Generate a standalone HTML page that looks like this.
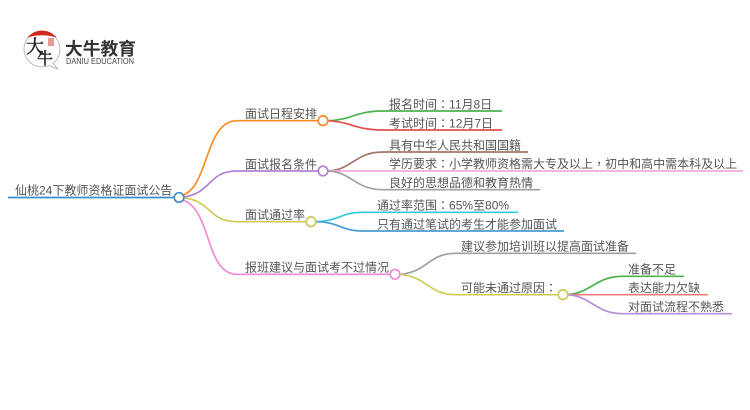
<!DOCTYPE html>
<html><head><meta charset="utf-8"><style>
html,body{margin:0;padding:0;background:#fff;width:750px;height:410px;overflow:hidden}
svg{display:block;filter:blur(0.35px)}
text{font-family:"Liberation Sans","Noto Sans CJK SC",sans-serif;font-size:12px;fill:#555}
.p{font-family:"Noto Sans CJK TC",sans-serif}
.l{fill:none;stroke-width:1.7}
.c{fill:#fff;stroke-width:1.7}
</style></head><body>
<svg width="750" height="410" viewBox="0 0 750 410" xmlns="http://www.w3.org/2000/svg">
<!-- logo -->
<path d="M24 49a18 18 0 1 1 29 14.500l5 5.500-9-3.500A18 18 0 0 1 24 49z" fill="#fff" stroke="#aaa" stroke-width=".8"/>
<path d="M29 36.500A18 18 0 0 1 55 36.500Q42 33 29 36.500z" fill="#cf2a20" stroke="#cf2a20" stroke-width="1"/>
<text x="26" y="53" style="font-size:18px;fill:#222;stroke:#222;stroke-width:.5;font-family:'Noto Serif CJK SC',serif">大</text>
<text x="37" y="64" style="font-size:16px;fill:#222;stroke:#222;stroke-width:.5;font-family:'Noto Serif CJK SC',serif">牛</text>
<rect x="48" y="38" width="6" height="8" fill="#e39a95"/>
<text x="65" y="55" textLength="71" lengthAdjust="spacingAndGlyphs" style="font-size:17.500px;font-weight:700;fill:#333;font-family:'Noto Sans CJK SC',sans-serif">大牛教育</text>
<text x="66" y="64" textLength="68" lengthAdjust="spacingAndGlyphs" style="font-size:8px;fill:#444">DANIU EDUCATION</text>
<!-- connectors -->
<path class="l" d="M8 197.500H174" stroke="#3f8ec9"/>
<path class="l" d="M183 195C209 186 205 120.700 237 120.700H318" stroke="#ff8a27"/>
<path class="l" d="M184 197C212 193 208 171 237 171H318" stroke="#b082d6"/>
<path class="l" d="M184 198C212 201 208 221.700 237 221.700H306" stroke="#cfca55"/>
<path class="l" d="M183 200C212 210 205 274.300 237 274.300H390" stroke="#f08ad8"/>
<path class="l" d="M328 120.700C352 120 355 111 383 111H502" stroke="#4cb34c"/>
<path class="l" d="M328 120.700C352 122 355 130 383 130H502" stroke="#e05050"/>
<path class="l" d="M328 171C352 170 355 152 383 152H528" stroke="#a5766a"/>
<path class="l" d="M328 171H743" stroke="#f2a9e2"/>
<path class="l" d="M328 171C352 172 355 189.700 383 189.700H540" stroke="#a0a0a0"/>
<path class="l" d="M316 221.700C340 221 340 212.300 363 212.300H518" stroke="#2fcadb"/>
<path class="l" d="M316 221.700C340 222 340 231 363 231H564" stroke="#4b9bd3"/>
<path class="l" d="M400 274.300C428 272 428 253.300 456 253.300H636" stroke="#a0a0a0"/>
<path class="l" d="M400 274.300C428 277 428 294.700 456 294.700H558" stroke="#cfca55"/>
<path class="l" d="M567 294.700C592 293 595 276.300 623 276.300H684" stroke="#4cb34c"/>
<path class="l" d="M567 294.700H708" stroke="#f47c7c"/>
<path class="l" d="M567 294.700C592 296 595 313.700 623 313.700H732" stroke="#b98fd8"/>
<!-- nodes -->
<circle class="c" cx="179" cy="197.500" r="4.800" stroke="#3f8ec9"/>
<circle class="c" cx="323" cy="120.700" r="4.800" stroke="#ff8a27"/>
<circle class="c" cx="323" cy="171" r="4.800" stroke="#b082d6"/>
<circle class="c" cx="311" cy="221.700" r="4.800" stroke="#cfca55"/>
<circle class="c" cx="395" cy="274.300" r="4.800" stroke="#f08ad8"/>
<circle class="c" cx="563" cy="294.700" r="4.800" stroke="#cfca55"/>
<!-- labels -->
<text x="15" y="194.500">仙桃24下教师资格证面试公告</text>
<text x="245" y="118">面试日程安排</text>
<text x="245" y="168.500">面试报名条件</text>
<text x="245" y="219">面试通过率</text>
<text x="245" y="271.500">报班建议与面试考不过情况</text>
<text x="389" y="108.500">报名时间<tspan class="p">：</tspan>11月8日</text>
<text x="389" y="127.500">考试时间<tspan class="p">：</tspan>12月7日</text>
<text x="389" y="149.500">具有中华人民共和国国籍</text>
<text x="389" y="168">学历要求<tspan class="p">：</tspan>小学教师资格需大专及以上<tspan class="p">，</tspan>初中和高中需本科及以上</text>
<text x="389" y="187">良好的思想品德和教育热情</text>
<text x="377" y="209.500">通过率范围<tspan class="p">：</tspan>65%至80%</text>
<text x="377" y="228.500">只有通过笔试的考生才能参加面试</text>
<text x="461" y="250.500">建议参加培训班以提高面试准备</text>
<text x="461" y="292">可能未通过原因<tspan class="p">：</tspan></text>
<text x="628" y="273.500">准备不足</text>
<text x="628" y="292">表达能力欠缺</text>
<text x="628" y="311">对面试流程不熟悉</text>
</svg>
</body></html>
